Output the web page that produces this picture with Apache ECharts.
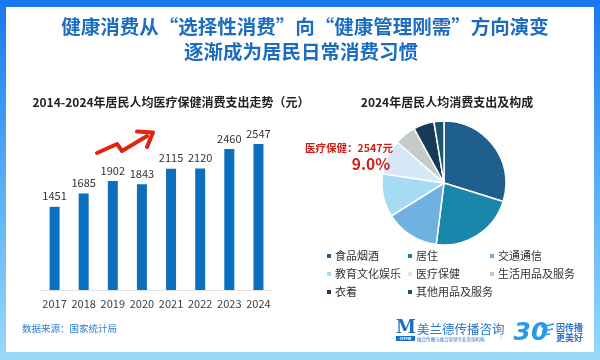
<!DOCTYPE html>
<html>
<head>
<meta charset="utf-8">
<script src="https://cdn.jsdelivr.net/npm/echarts@6/dist/echarts.min.js"></script>
<style>
html,body{margin:0;padding:0;background:#fff;}
#c{width:600px;height:360px;}
</style>
</head>
<body>
<div id="c"></div>
<script>
// ---- data ----
var years = ['2017','2018','2019','2020','2021','2022','2023','2024'];
var healthSpend = [1451, 1685, 1902, 1843, 2115, 2120, 2460, 2547];
var pieNames = ['食品烟酒','居住','交通通信','教育文化娱乐','医疗保健','生活用品及服务','衣着','其他用品及服务'];
var pieValues = [29.8, 22.2, 14.1, 11.3, 9.0, 5.6, 5.4, 2.6];
var pieColors = ['#1e5f8e','#1a86aa','#6fb2e2','#a6dcf3','#d6e8f6','#c5cacd','#163a58','#1b566e'];
var legendCols = [
  ['食品烟酒','教育文化娱乐','衣着'],
  ['居住','医疗保健','其他用品及服务'],
  ['交通通信','生活用品及服务']
];
var titleLines = ['健康消费从“选择性消费”向“健康管理刚需”方向演变','逐渐成为居民日常消费习惯'];
var barTitle = '2014-2024年居民人均医疗保健消费支出走势（元）';
var pieTitle = '2024年居民人均消费支出及构成';
var noteLabel = '医疗保健：2547元';
var notePct = '9.0%';
var sourceText = '数据来源：国家统计局';

var FF = '"Noto Sans CJK SC","Noto Sans",sans-serif';
var chart = echarts.init(document.getElementById('c'), null, {renderer:'canvas'});

function txt(text, x, y, size, color, weight, align, extra) {
  var o = {type:'text', z: 10, style:{text:text, x:x, y:y, fontSize:size, fontFamily:FF,
    fontWeight:weight||'normal', fill:color, textAlign:align||'center', textVerticalAlign:'middle'}};
  if (extra) for (var k in extra) o.style[k] = extra[k];
  return o;
}

var graphics = [
  {type:'rect', z:-10, silent:true, shape:{x:0,y:0,width:600,height:360},
    style:{fill:new echarts.graphic.LinearGradient(0,0,0,1,[
      {offset:0,color:'#1a76ee'},{offset:0.5,color:'#55aef6'},{offset:1,color:'#9adafb'}])}},
  {type:'rect', z:-9, silent:true, shape:{x:6,y:7,width:588,height:345}, style:{fill:'#ffffff'}},
  txt(titleLines[0], 305, 27, 19.5, '#1c6dc1', 'bold'),
  txt(titleLines[1], 301, 52, 19.5, '#1c6dc1', 'bold'),
  txt(barTitle, 171, 102, 12, '#222222', 'bold'),
  txt(pieTitle, 447, 102, 12, '#222222', 'bold'),
  txt(noteLabel, 349, 148, 10.5, '#cc1f1a', 'bold'),
  txt(notePct, 371, 164, 15.5, '#cc1f1a', 'bold'),
  txt(sourceText, 22, 328, 9.5, '#2a7fd0', 'normal', 'left'),
  // red zigzag arrow
  {type:'polyline', z:10, shape:{points:[[97,153],[117,144],[122,151],[147,136]]},
    style:{stroke:'#e0240f', lineWidth:4, fill:null, lineCap:'round', lineJoin:'round'}},
  {type:'polyline', z:10, shape:{points:[[137,131.5],[153,132.5],[147,147]]},
    style:{stroke:'#e0240f', lineWidth:4, fill:null, lineCap:'round', lineJoin:'round'}},
  // logo: M
  txt('M', 406, 328, 18, '#1f6ec2', 'bold', 'center', {fontFamily:'"DejaVu Serif",serif'}),
  {type:'rect', z:10, shape:{x:396,y:336,width:19,height:5}, style:{fill:'#1f6ec2'}},
  txt('CMMR', 405.5, 338.6, 4, '#ffffff', 'bold'),
  txt('美兰德传播咨询', 417, 329, 12.5, '#2a75c8', 'normal', 'left'),
  txt('融合传播与融合营销专业咨询机构', 417, 339, 4.5, '#2a75c8', 'normal', 'left'),
  {type:'line', z:10, shape:{x1:501,y1:324,x2:501,y2:341}, style:{stroke:'#d8d8d8', lineWidth:1}},
  // logo: 30
  txt('30', 531, 333, 25, '#2b9ae6', 'bold', 'center', {fontStyle:'italic', fontFamily:'"DejaVu Sans",sans-serif'}),
  {type:'polyline', z:10, shape:{points:[[541,327],[554,324]]}, style:{stroke:'#2b9ae6', lineWidth:1.5}},
  {type:'polyline', z:10, shape:{points:[[542,331],[553,329]]}, style:{stroke:'#2b9ae6', lineWidth:1.5}},
  {type:'polyline', z:10, shape:{points:[[542,335],[550,334]]}, style:{stroke:'#2b9ae6', lineWidth:1.5}},
  txt('因传播', 556, 328, 9, '#2a75c8', 'bold', 'left'),
  txt('更美好', 556, 338, 9, '#2a75c8', 'bold', 'left')
];

var legends = legendCols.map(function(col, i){
  return {
    orient:'vertical', left:[320,401,483][i], top:245,
    data: col, icon:'rect', itemWidth:6, itemHeight:6, itemGap:6,
    selectedMode:false,
    textStyle:{fontSize:11, color:'#333', fontFamily:FF, lineHeight:12, padding:[0,0,0,-2]}
  };
});

chart.setOption({
  animation:false,
  backgroundColor:'transparent',
  textStyle:{fontFamily:FF},
  graphic: graphics,
  legend: legends,
  grid:{left:40, right:327, top:118, bottom:70},
  xAxis:{type:'category', data:years,
    axisLine:{lineStyle:{color:'#e2e2e2', width:1}}, axisTick:{show:false},
    axisLabel:{interval:0, fontSize:11, color:'#404040', margin:8, fontFamily:FF}},
  yAxis:{type:'value', min:0, max:3000, show:false, splitLine:{show:false}},
  series:[
    {type:'bar', data:healthSpend, barWidth:10, itemStyle:{color:'#0a6fbf'},
      label:{show:true, position:'top', distance:5, fontSize:11, color:'#333', fontFamily:FF}},
    {type:'pie', center:[444,183], radius:62, startAngle:90, clockwise:true,
      label:{show:false}, labelLine:{show:false},
      itemStyle:{borderColor:'#fff', borderWidth:1.5},
      data: pieNames.map(function(n,i){ return {name:n, value:pieValues[i], itemStyle:{color:pieColors[i]}}; })
    }
  ]
});
</script>
</body>
</html>
